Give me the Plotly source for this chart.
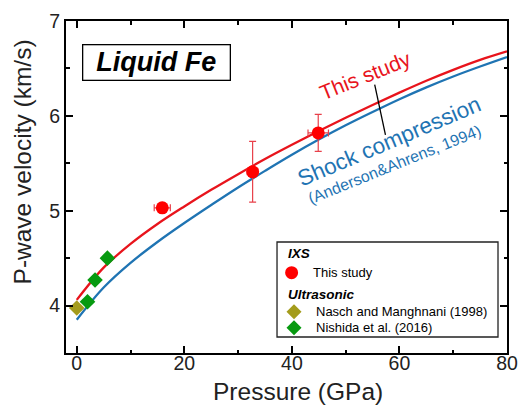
import plotly.graph_objects as go

# ---------------- data ----------------
curve_p = [0, 5, 10, 15, 20, 25, 30, 35, 40, 45, 50, 55, 60, 65, 70, 75, 80]
this_study_curve = [4.06, 4.40, 4.65, 4.86, 5.045, 5.22, 5.385, 5.545, 5.695, 5.84,
                    5.98, 6.115, 6.245, 6.37, 6.485, 6.59, 6.68]
shock_curve = [3.85, 4.19, 4.45, 4.67, 4.87, 5.06, 5.245, 5.42, 5.59, 5.75,
               5.90, 6.04, 6.175, 6.30, 6.415, 6.52, 6.62]

ixs_p = [15.9, 32.7, 44.9]
ixs_v = [5.03, 5.41, 5.82]
ixs_p_err = [1.5, 1.0, 1.9]
ixs_v_err = [0.05, 0.32, 0.195]

nasch_p = [0.0]
nasch_v = [3.975]

nishida_p = [2.0, 3.4, 5.7]
nishida_v = [4.04, 4.27, 4.50]

x_ticks = [0, 20, 40, 60, 80]
y_ticks = [4, 5, 6, 7]

RED = "#e8141c"
BLUE = "#1f74b3"
PT_RED = "#ff0000"
OLIVE = "#a49c1c"
GREEN = "#079a10"
FONT = "Arial, Liberation Sans, sans-serif"

fig = go.Figure()

fig.add_trace(go.Scatter(x=curve_p, y=shock_curve, mode="lines", line_shape="spline",
                         line=dict(color=BLUE, width=2.3), showlegend=False, hoverinfo="skip"))
fig.add_trace(go.Scatter(x=curve_p, y=this_study_curve, mode="lines", line_shape="spline",
                         line=dict(color=RED, width=2.3), showlegend=False, hoverinfo="skip"))

fig.add_trace(go.Scatter(
    x=ixs_p, y=ixs_v, mode="markers", name="This study", showlegend=False,
    marker=dict(symbol="circle", size=13, color=PT_RED),
    error_x=dict(type="data", array=ixs_p_err, color="#e8404a", thickness=1.2, width=3.5),
    error_y=dict(type="data", array=ixs_v_err, color="#e8404a", thickness=1.2, width=3.5),
))
fig.add_trace(go.Scatter(
    x=nasch_p, y=nasch_v, mode="markers", name="Nasch and Manghnani (1998)", showlegend=False,
    marker=dict(symbol="diamond", size=12, color=OLIVE),
))
fig.add_trace(go.Scatter(
    x=nishida_p, y=nishida_v, mode="markers", name="Nishida et al. (2016)", showlegend=False,
    marker=dict(symbol="diamond", size=12, color=GREEN),
))

# leader line between the curve labels
fig.add_shape(type="line", xref="x", yref="y", x0=55.4, y0=6.33, x1=57.4, y1=5.80,
              line=dict(color="black", width=1.3))

fig.add_annotation(x=53.6, y=6.43, xref="x", yref="y", text="This study", showarrow=False,
                   textangle=-22, font=dict(size=21, color=RED, family=FONT))
fig.add_annotation(x=58.05, y=5.73, xref="x", yref="y", text="Shock compression", showarrow=False,
                   textangle=-23, font=dict(size=22.5, color=BLUE, family=FONT))
fig.add_annotation(x=59.1, y=5.49, xref="x", yref="y", text="(Anderson&Ahrens, 1994)", showarrow=False,
                   textangle=-22, font=dict(size=16, color=BLUE, family=FONT))

fig.add_annotation(x=0.2057, y=0.8735, xref="paper", yref="paper", xanchor="center", yanchor="middle",
                   text="<b><i>Liquid Fe</i></b>", showarrow=False,
                   font=dict(size=27, color="black", family=FONT),
                   bordercolor="black", borderwidth=1.3, borderpad=0,
                   width=146, height=34, bgcolor="white")

# axis titles
fig.add_annotation(x=0.525, y=-0.1145, xref="paper", yref="paper", xanchor="center", yanchor="middle",
                   text="Pressure (GPa)", showarrow=False,
                   font=dict(size=24.5, family=FONT, color="#222"))
fig.add_annotation(x=-0.0997, y=0.574, xref="paper", yref="paper", xanchor="center", yanchor="middle",
                   text="P-wave velocity (km/s)", showarrow=False, textangle=-90,
                   font=dict(size=24.5, family=FONT, color="#222"))

# ---------------- hand-built legend (box, swatches, labels) ----------------
fig.add_shape(type="rect", xref="paper", yref="paper", x0=0.4785, x1=0.9796, y0=0.0482, y1=0.3343,
              line=dict(color="#222", width=1.3), fillcolor="white", layer="above")

legend_rows = [
    ("title", "IXS", None, 0.3012),
    ("circle", "This study", PT_RED, 0.2419),
    ("title", "Ultrasonic", None, 0.1768),
    ("diamond", "Nasch and Manghnani (1998)", OLIVE, 0.1244),
    ("diamond", "Nishida et al. (2016)", GREEN, 0.0762),
]
PX_X = 1 / 441.0
PX_Y = 1 / 332.0
for kind, label, color, yy in legend_rows:
    if kind == "title":
        fig.add_annotation(x=0.499, y=yy, xref="paper", yref="paper", xanchor="left", yanchor="middle",
                           text="<b><i>%s</i></b>" % label, showarrow=False,
                           font=dict(size=13.5, family=FONT, color="black"))
        continue
    cx = 0.5116 if kind == "circle" else 0.5170
    if kind == "circle":
        r = 6.5
        fig.add_shape(type="circle", xref="paper", yref="paper",
                      x0=cx - r * PX_X, x1=cx + r * PX_X, y0=yy - r * PX_Y, y1=yy + r * PX_Y,
                      fillcolor=color, line=dict(width=0), layer="above")
        tx = 0.5556
    else:
        h = 7.5
        path = "M %f,%f L %f,%f L %f,%f L %f,%f Z" % (
            cx - h * PX_X, yy, cx, yy + h * PX_Y, cx + h * PX_X, yy, cx, yy - h * PX_Y)
        fig.add_shape(type="path", xref="paper", yref="paper", path=path,
                      fillcolor=color, line=dict(width=0), layer="above")
        tx = 0.5630
    fig.add_annotation(x=tx, y=yy, xref="paper", yref="paper", xanchor="left", yanchor="middle",
                       text=label, showarrow=False, font=dict(size=13, family=FONT, color="black"))

axis_common = dict(
    showline=True, linecolor="black", linewidth=2, mirror="ticks",
    ticks="inside", ticklen=7, tickwidth=1.8, tickcolor="black",
    showgrid=False, zeroline=False, automargin=False,
    tickfont=dict(size=19.5, family=FONT, color="#222"),
)

fig.update_xaxes(range=[-2, 80], tickvals=x_ticks, ticktext=[str(v) for v in x_ticks],
                 ticklabelstandoff=-8,
                 minor=dict(ticks="inside", ticklen=3.5, tickwidth=1.5, tickcolor="black", dtick=10, tick0=0),
                 **axis_common)
fig.update_yaxes(range=[3.5, 7], tickvals=y_ticks, ticktext=[str(v) for v in y_ticks],
                 minor=dict(ticks="inside", ticklen=3.5, tickwidth=1.5, tickcolor="black", dtick=0.5, tick0=0),
                 **axis_common)

fig.update_layout(
    width=522, height=408,
    margin=dict(l=66, r=15, t=21, b=55, autoexpand=False),
    paper_bgcolor="white", plot_bgcolor="white",
    font=dict(family=FONT, color="black"),
    showlegend=False,
)

fig.write_html("out.html", config={"displayModeBar": False},
               post_script="document.body.style.margin='0';")
